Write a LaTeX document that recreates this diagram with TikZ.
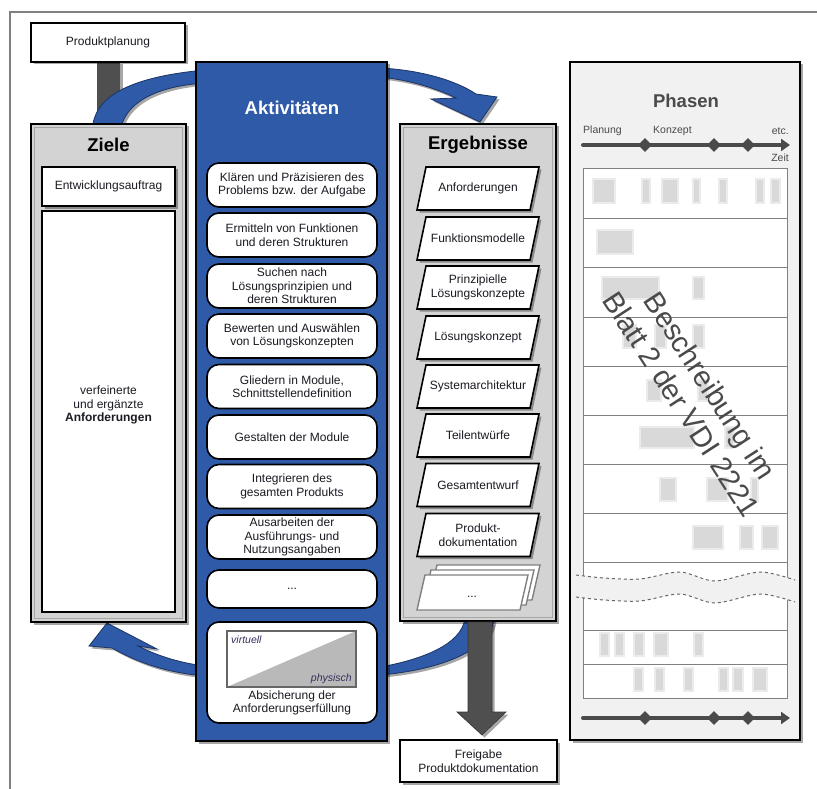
\documentclass[tikz,border=0pt]{standalone}
\usepackage{fontspec}
\setmainfont{Liberation Sans}
\usetikzlibrary{shadows,arrows.meta,shapes.geometric,calc}
\definecolor{blu}{HTML}{2E5AA7}
\definecolor{bluedge}{HTML}{1C3466}
\definecolor{zielgray}{HTML}{D3D3D3}
\definecolor{phbg}{HTML}{F1F1F1}
\definecolor{darkbar}{HTML}{4F4F4F}
\definecolor{tl}{HTML}{4A4A4A}
\definecolor{blk}{HTML}{D9D9D9}
\definecolor{blksoft}{HTML}{EBEBEB}
\definecolor{txt}{HTML}{1A1A22}
\definecolor{vp}{HTML}{3A2E5E}
\newcommand\myfont{\fontsize{12}{13.5}\selectfont}
\newcommand\mytitle{\fontsize{18.5}{20}\selectfont\bfseries}
\newcommand\mysmall{\fontsize{10.5}{12}\selectfont}
\newcommand\mypara[3]{%
  \draw[pbox] (417,{#2+21.5}) -- (530,{#2+21.5}) -- (539,{#2-21.5}) -- (426,{#2-21.5}) -- cycle;
  \node[ptext] (#1) at (478,#2) {#3};
}
\tikzset{
  shad/.style={drop shadow={shadow xshift=2.5pt,shadow yshift=-2.5pt,fill=black,opacity=0.35}},
  plainbox/.style={draw=black,line width=1.3pt,fill=white,font=\myfont,text=txt,align=center,inner sep=1pt,shad},
  act/.style={draw=black,line width=1.6pt,fill=white,rounded corners=12pt,minimum width=170pt,minimum height=44pt,align=center,font=\myfont,text=txt,inner sep=1pt},
  pbox/.style={draw=black,line width=1.6pt,fill=white,shad},
  pstack/.style={draw=gray,line width=1.4pt,fill=white},
  ptext/.style={font=\myfont,text=txt,align=center,inner sep=1pt},
  ring/.style={fill=blu,draw=bluedge,line width=0.8pt,shad},
  column/.style={draw=black,line width=1.6pt,shad},
  tline/.style={draw=tl,line width=4pt},
  dia/.style={diamond,fill=tl,minimum size=14pt,inner sep=0pt},
  tlabel/.style={font=\mysmall,text=tl,inner sep=0pt},
}
\begin{document}
\begin{tikzpicture}[x=1pt,y=-1pt]
\useasboundingbox (0,0) rectangle (817,789);
\fill[white] (0,0) rectangle (817,789);
% outer frame
\draw[gray,line width=1.6pt] (10,789) -- (10,12) -- (817,12);

% dark bar from Produktplanung to Ziele
\fill[darkbar,shad] (97,62) rectangle (120,124);

% blue ring arcs
\filldraw[ring] (93,124) .. controls (98,92) and (140,76) .. (205,70) -- (205,83) .. controls (160,86) and (130,100) .. (122,124) -- cycle;
\filldraw[ring] (380,68) .. controls (420,70) and (455,80) .. (476,94) -- (497,97) -- (480,122) -- (431,99) -- (456,98) .. controls (435,88) and (410,80) .. (380,77) -- cycle;
\filldraw[ring] (205,666) .. controls (180,663) and (158,656) .. (138,646) -- (157,649) -- (107,623) -- (89,646) -- (112,648) .. controls (140,664) and (170,673) .. (205,676) -- cycle;
\filldraw[ring] (465,618) .. controls (462,645) and (420,660) .. (380,667) -- (380,675) .. controls (440,670) and (492,650) .. (494,618) -- cycle;

% Ziele column
\filldraw[column,fill=zielgray] (31,124) rectangle (186,622);
\draw[gray!70,line width=0.6pt] (34.5,127.5) rectangle (182.5,618.5);
\node[font=\mytitle,text=black] (ziele) at (108.5,145) {Ziele};
\node[plainbox,minimum width=133pt,minimum height=39pt] (ea) at (108.5,186.5) {Entwicklungsauftrag};
\draw[black,line width=1.3pt,fill=white] (42,211) rectangle (175,612);
\node[font=\myfont,text=txt,align=center] (vea) at (108.5,405) {verfeinerte\\und ergänzte\\\textbf{Anforderungen}};

% Aktivitaeten column
\filldraw[column,fill=blu] (196,62) rectangle (387,741);
\node[font=\mytitle,text=white] (akt) at (292,108) {Aktivitäten};
\node[act] (a1) at (292,185) {Klären und Präzisieren des\\Problems bzw. der Aufgabe};
\node[act] (a2) at (292,235) {Ermitteln von Funktionen\\und deren Strukturen};
\node[act] (a3) at (292,286) {Suchen nach\\Lösungsprinzipien und\\deren Strukturen};
\node[act] (a4) at (292,336) {Bewerten und Auswählen\\von Lösungskonzepten};
\node[act] (a5) at (292,386.5) {Gliedern in Module,\\Schnittstellendefinition};
\node[act] (a6) at (292,437) {Gestalten der Module};
\node[act] (a7) at (292,486.5) {Integrieren des\\gesamten Produkts};
\node[act] (a8) at (292,537) {Ausarbeiten der\\Ausführungs- und\\Nutzungsangaben};
\node[act,minimum height=38pt] (a9) at (292,589) {...};
\node[act,minimum height=101pt] (a10) at (292,672.5) {};
\filldraw[draw=gray!80!black,line width=1.3pt,fill=white] (227,631) rectangle (356,687);
\fill[gray!55] (227,687) -- (356,631) -- (356,687) -- cycle;
\draw[gray!80!black,line width=1.3pt] (227,631) rectangle (356,687);
\node[font=\mysmall\itshape,text=vp,anchor=west,inner sep=0pt] (virt) at (231,640) {virtuell};
\node[font=\mysmall\itshape,text=vp,anchor=east,inner sep=0pt] (phys) at (352,679) {physisch};
\node[font=\myfont,text=txt,align=center,inner sep=0pt] (abs) at (292,703) {Absicherung der\\Anforderungserfüllung};

% Ergebnisse column
\filldraw[column,fill=zielgray] (400,124) rectangle (556,621);
\draw[gray!70,line width=0.6pt] (403.5,127.5) rectangle (552.5,617.5);
\node[font=\mytitle,text=black] (erg) at (478,145) {Ergebnisse};
\mypara{p1}{188.5}{Anforderungen}
\mypara{p2}{238.5}{Funktionsmodelle}
\mypara{p3}{287.5}{Prinzipielle\\Lösungskonzepte}
\mypara{p4}{337.5}{Lösungskonzept}
\mypara{p5}{386.5}{Systemarchitektur}
\mypara{p6}{435.5}{Teilentwürfe}
\mypara{p7}{485}{Gesamtentwurf}
\mypara{p8}{535}{Produkt-\\dokumentation}
\foreach \d in {12,6,0}
  \draw[pstack] ({417+\d},{610-\d*5/6}) -- ({520+\d},{610-\d*5/6}) -- ({528+\d},{575-\d*5/6}) -- ({425+\d},{575-\d*5/6}) -- cycle;
\node[ptext] (p9) at (472,597) {...};

% grey output arrow
\filldraw[fill=darkbar,draw=darkbar!70!black,line width=0.6pt,shad] (468,622) -- (492,622) -- (492,712) -- (506,712) -- (482,735) -- (457,712) -- (468,712) -- cycle;

% Produktplanung and Freigabe boxes
\node[plainbox,minimum width=154pt,minimum height=39pt] (pp) at (108,42.5) {Produktplanung};
\node[plainbox,minimum width=157pt,minimum height=42pt] (fr) at (478.5,761) {Freigabe\\Produktdokumentation};

% Phasen column
\filldraw[column,fill=phbg] (570,62) rectangle (800,740);
\node[font=\mytitle,text=tl] (ph) at (686,101) {Phasen};
\node[tlabel,anchor=west] (lpl) at (583,131) {Planung};
\node[tlabel,anchor=west] (lko) at (653,131) {Konzept};
\node[tlabel,anchor=east] (let) at (789,131) {etc.};
\node[tlabel,anchor=east] (lze) at (789,158) {Zeit};
\coordinate (t1s) at (583,145);
\coordinate (t1e) at (790,145);
\draw[tline,line cap=round,-{Triangle[length=9pt,width=12pt]}] (t1s) -- (t1e);
\node[dia] (d1) at (645,145) {};
\node[dia] (d2) at (714,145) {};
\node[dia] (d3) at (748,145) {};

% table
\filldraw[fill=white,draw=gray,line width=1pt] (583,169) rectangle (787,698);
\foreach \y in {218,267,317,366,415,464,513,562,630,664}
  \draw[gray,line width=1pt] (583,\y) -- (787,\y);
\foreach \xa/\ya/\xb/\yb in {
  593/180/614/202, 642/180/649/202, 662/180/677/202, 693/180/699/202, 719/180/726/202, 756/180/763/202, 771/180/779/202,
  597/230/632/253,
  602/277/658/298, 693/277/703/298,
  623/325/635/347, 655/325/665/347, 693/325/703/347,
  647/380/660/400, 698/380/707/400,
  640/427/693/447, 725/427/733/447,
  660/478/675/500, 707/478/727/500, 751/478/757/500,
  693/526/722/548, 740/526/752/548, 762/526/777/548,
  600/633/608/655, 615/633/623/655, 634/633/643/655, 654/633/667/655, 694/633/702/655,
  634/668/642/690, 655/668/663/690, 684/668/692/690, 719/668/727/690, 733/668/742/690, 753/668/766/690}
  {\fill[blksoft] (\xa-1.5,\ya-1.5) rectangle (\xb+1.5,\yb+1.5);
   \fill[blk] (\xa+0.5,\ya+0.5) rectangle (\xb-0.5,\yb-0.5);}
\node[rotate=-57,text=tl,font=\fontsize{29}{34}\selectfont,align=center] (vdi) at (696,395) {Beschreibung im\\Blatt 2 der VDI 2221};

% wavy break
\fill[phbg] plot[smooth] coordinates {(576,575) (604,578) (640,579) (680,572) (715,581) (760,572) (795,580)}
  -- plot[smooth] coordinates {(795,602) (760,594) (715,603) (680,594) (640,601) (604,600) (576,597)} -- cycle;
\draw[gray!80!black,dashed,line width=1pt] plot[smooth] coordinates {(576,575) (604,578) (640,579) (680,572) (715,581) (760,572) (795,580)};
\draw[gray!80!black,dashed,line width=1pt] plot[smooth] coordinates {(576,597) (604,600) (640,601) (680,594) (715,603) (760,594) (795,602)};

% bottom timeline
\coordinate (t2s) at (583,718);
\coordinate (t2e) at (790,718);
\draw[tline,line cap=round,-{Triangle[length=9pt,width=12pt]}] (t2s) -- (t2e);
\node[dia] (e1) at (645,718) {};
\node[dia] (e2) at (714,718) {};
\node[dia] (e3) at (748,718) {};
\end{tikzpicture}
\end{document}
